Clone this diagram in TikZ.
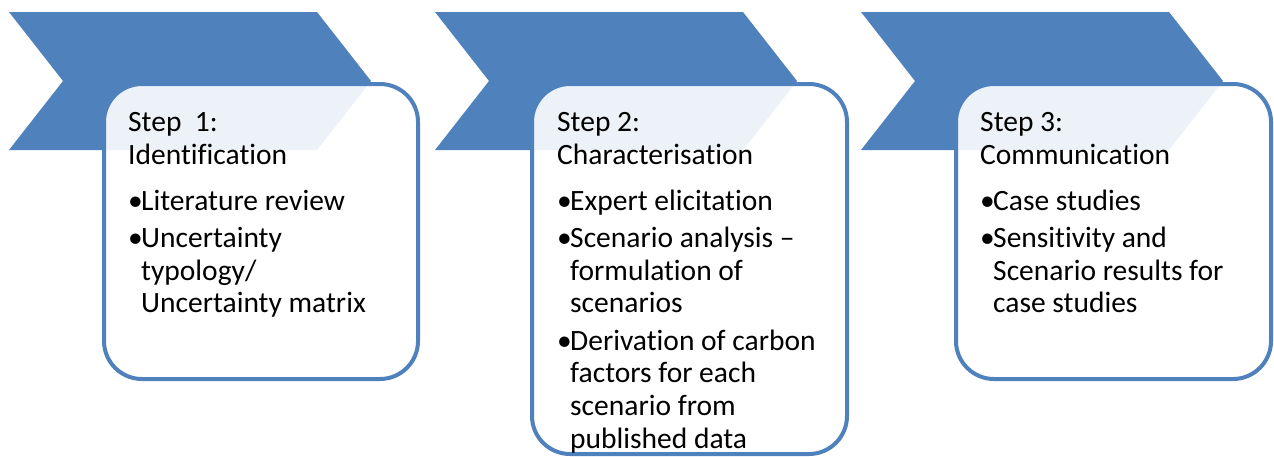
\documentclass[tikz,border=0pt]{standalone}
\usepackage{fontspec}
\setmainfont{Carlito}[Ligatures=NoCommon]
\definecolor{chev}{HTML}{4F81BD}
\newcommand{\stepbullet}{\makebox[13pt][l]{•}}
\newcommand{\stepindent}{\hspace*{13pt}}
\tikzset{
  chevfill/.style={fill=chev},
  stepbox/.style={draw=chev, line width=4pt, rounded corners=38pt, fill=white,
    fill opacity=0.9, draw opacity=1, inner sep=0pt, anchor=north west},
  steptext/.style={anchor=north west, inner sep=0pt, align=left,
    font=\fontsize{29.5}{32.7}\selectfont}
}
\begin{document}
\begin{tikzpicture}[x=1pt,y=-1pt]
\useasboundingbox (0,0) rectangle (1274,456);
% chevrons
\fill[chevfill] (9,12) -- (317,12) -- (371,81) -- (317,150) -- (9,150) -- (63,81) -- cycle;
\fill[chevfill] (435,12) -- (743,12) -- (797,81) -- (743,150) -- (435,150) -- (489,81) -- cycle;
\fill[chevfill] (861,12) -- (1169,12) -- (1223,81) -- (1169,150) -- (861,150) -- (915,81) -- cycle;
% boxes
\node[stepbox, minimum width=314pt, minimum height=295pt] (box1) at (102,82) {};
\node[stepbox, minimum width=315pt, minimum height=370pt] (box2) at (530,82) {};
\node[stepbox, minimum width=315pt, minimum height=295pt] (box3) at (954,82) {};
% texts
\node[steptext] (t1) at (128,112) {Step\ \ 1:\\ Identification\\[13.5pt]
  \stepbullet Literature review\\[4.5pt]
  \stepbullet Uncertainty\\ \stepindent typology/\\ \stepindent Uncertainty matrix};
\node[steptext] (t2) at (557,112) {Step 2:\\ Characterisation\\[13.5pt]
  \stepbullet Expert elicitation\\[4.5pt]
  \stepbullet Scenario analysis --\\ \stepindent formulation of\\ \stepindent scenarios\\[4.5pt]
  \stepbullet Derivation of carbon\\ \stepindent factors for each\\ \stepindent scenario from\\ \stepindent published data};
\node[steptext] (t3) at (980,112) {Step 3:\\ Communication\\[13.5pt]
  \stepbullet Case studies\\[4.5pt]
  \stepbullet Sensitivity and\\ \stepindent Scenario results for\\ \stepindent case studies};
\end{tikzpicture}
\end{document}
